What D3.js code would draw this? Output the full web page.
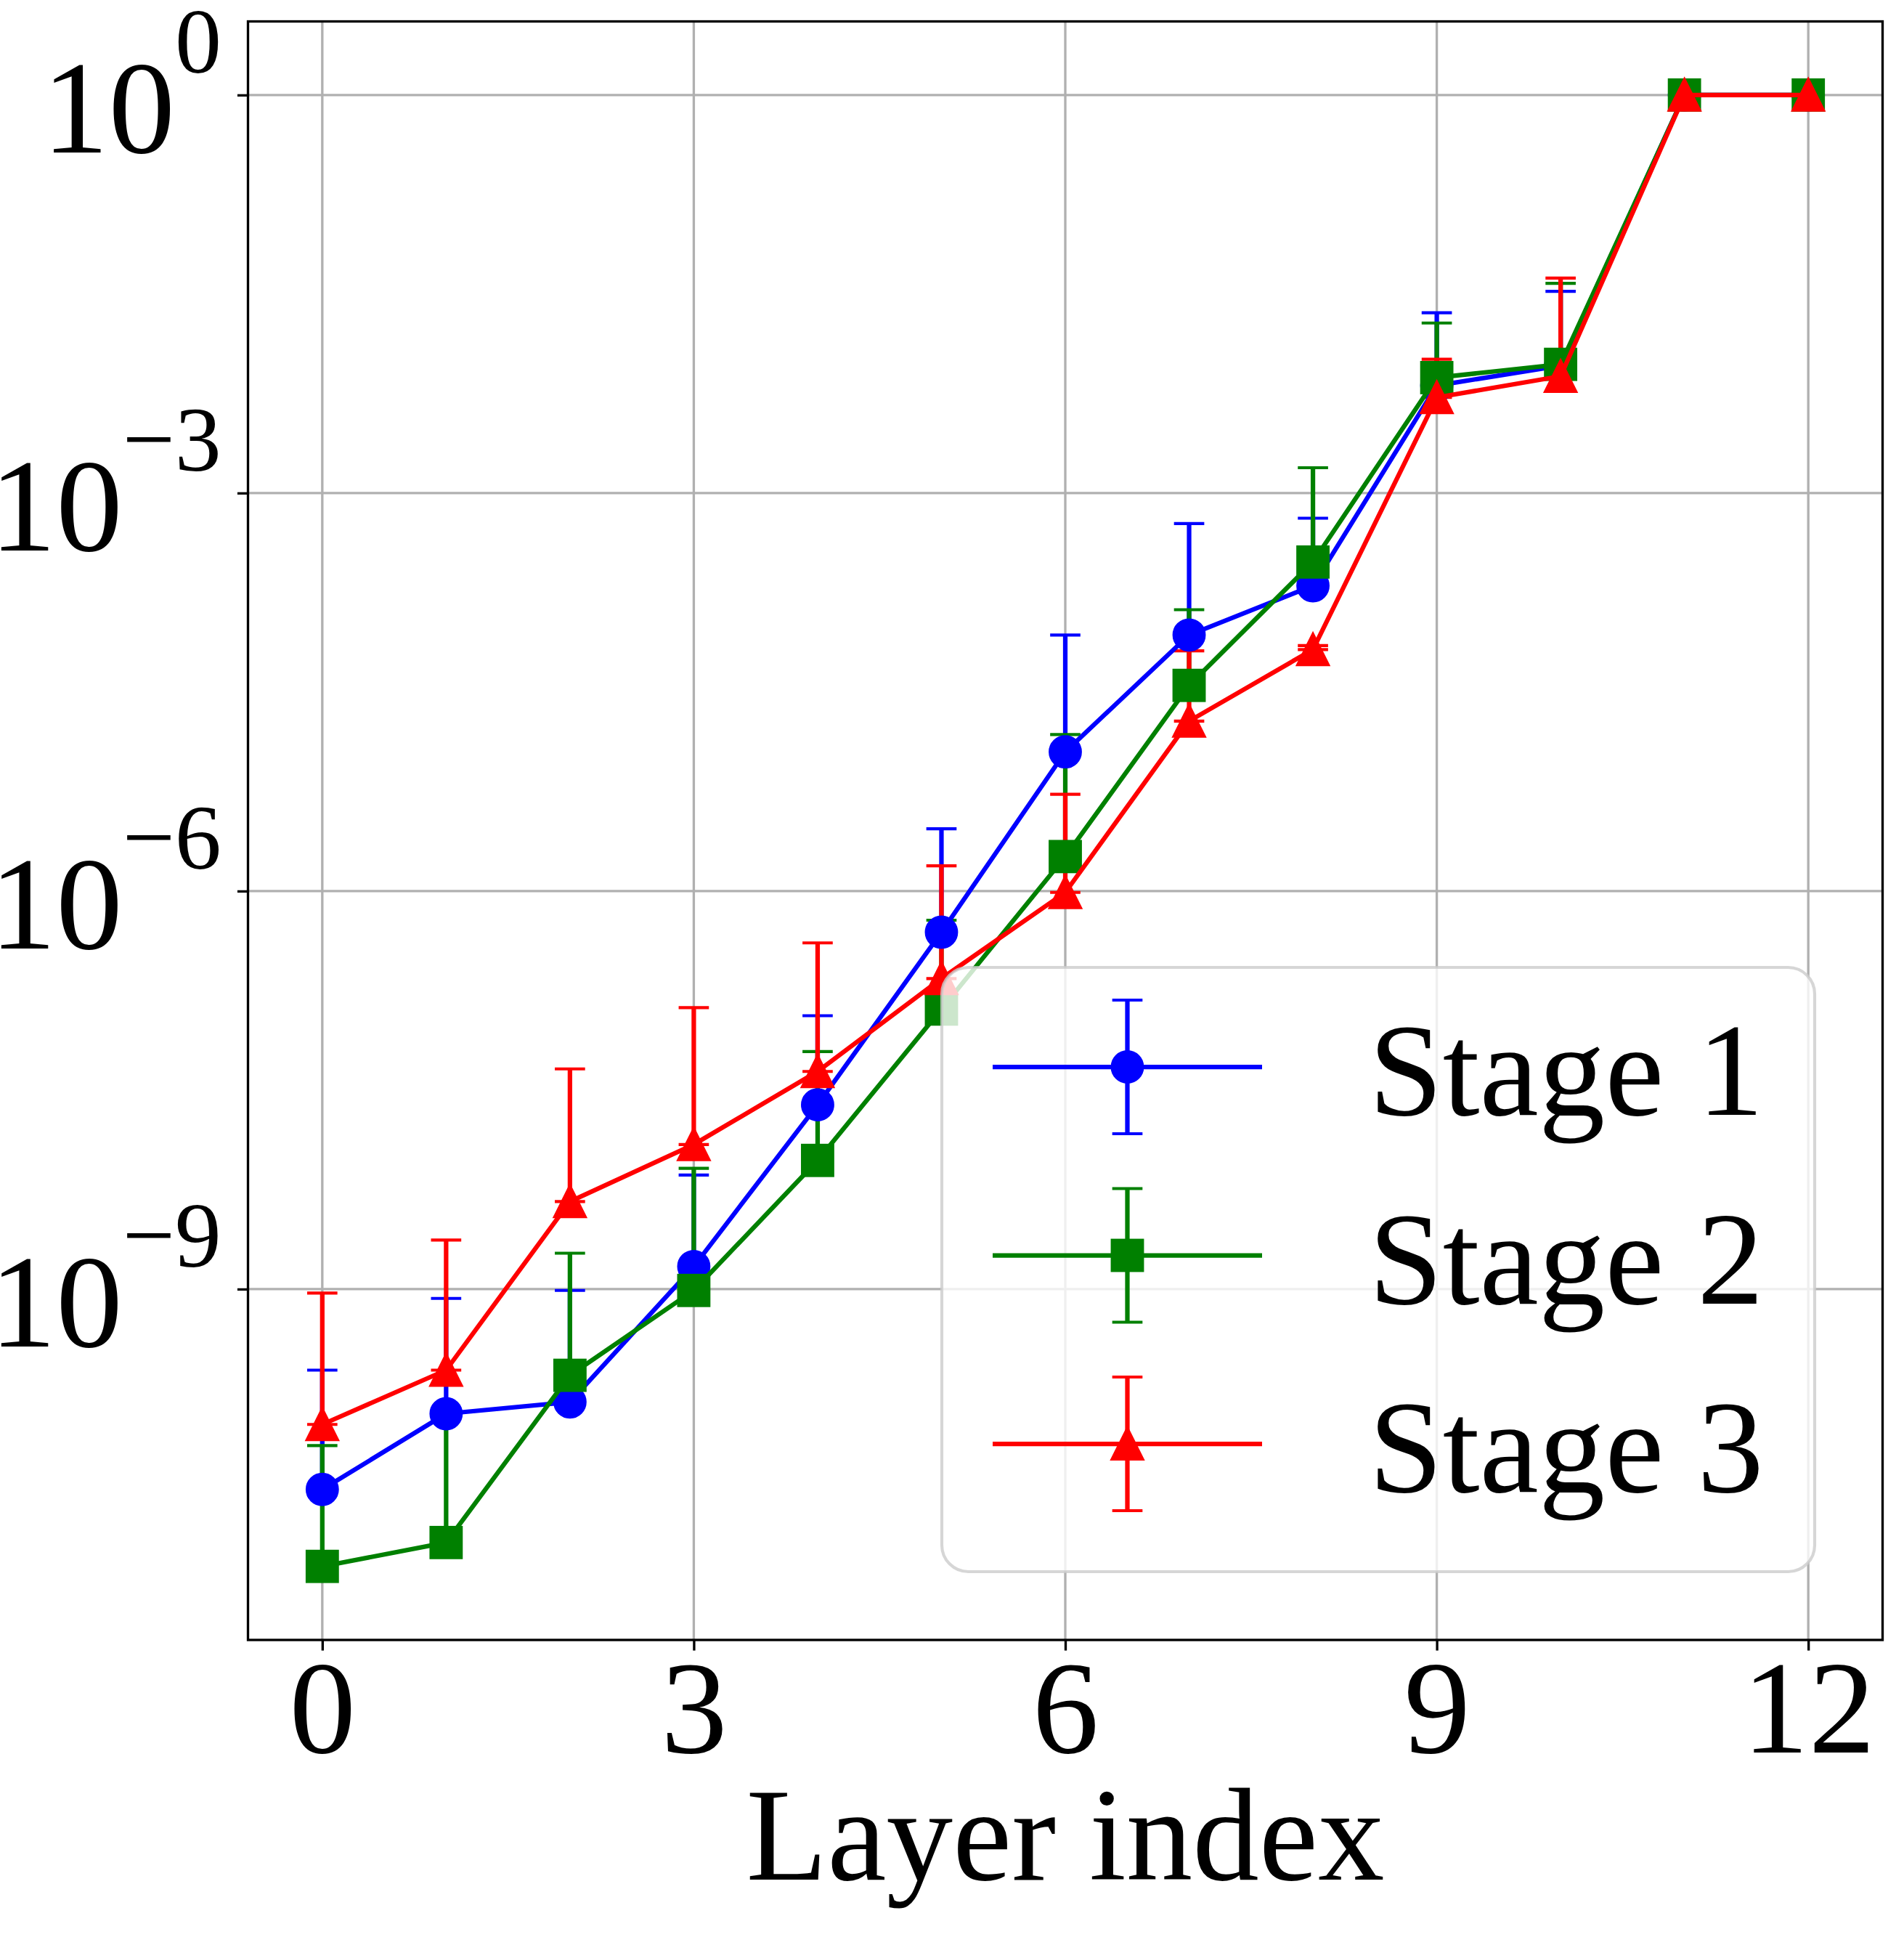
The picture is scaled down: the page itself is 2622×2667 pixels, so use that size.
<!DOCTYPE html>
<html>
<head>
<meta charset="utf-8">
<title>Layer index</title>
<script src="https://cdn.jsdelivr.net/npm/d3@7"></script>
<style>
  body { margin: 0; background: #fff; }
  svg { display: block; }
</style>
</head>
<body>
<svg width="2622" height="2667"></svg>
<script>
// data (mean, upper error)
const layers = [0, 1, 2, 3, 4, 5, 6, 7, 8, 9, 10, 11, 12];
const seriesNames = ['Stage 1', 'Stage 2', 'Stage 3'];

const stage1 = [3.09e-11, 1.15e-10, 1.41e-10, 1.48e-9, 2.45e-8, 4.90e-7, 1.12e-5, 8.51e-5, 2.00e-4, 6.46e-3, 9.12e-3, 1, 1];
const stage1Err = [2.14e-10, 7.36e-10, 8.36e-10, 5.76e-9, 9.05e-8, 2.46e-6, 7.39e-5, 5.04e-4, 4.46e-4, 1.64e-2, 2.40e-2, null, null];

const stage2 = [8.13e-12, 1.23e-11, 2.24e-10, 9.77e-10, 9.33e-9, 1.29e-7, 1.82e-6, 3.55e-5, 3.02e-4, 7.41e-3, 9.33e-3, 1, 1];
const stage2Err = [5.80e-11, 9.5e-11, 1.64e-9, 7.15e-9, 5.24e-8, 4.74e-7, 1.33e-5, 9.65e-5, 1.25e-3, 1.17e-2, 2.87e-2, null, null];

const stage3 = [9.55e-11, 2.45e-10, 4.57e-9, 1.23e-8, 4.37e-8, 2.19e-7, 9.77e-7, 1.91e-5, 6.61e-5, 5.25e-3, 7.59e-3, 1, 1];
const stage3Err = [8.38e-10, 2.10e-9, 4.11e-8, 1.20e-7, 3.63e-7, 1.33e-6, 4.39e-6, 4.55e-5, 4.7e-6, 4.95e-3, 3.41e-2, null, null];

const xTicks = [0, 3, 6, 9, 12];
const yTickExps = [0, -3, -6, -9];
const xLabel = 'Layer index';

const colors = ['#0000ff', '#008000', '#ff0000'];
const shapes = ['circle', 'square', 'triangle'];
const stages = [
  { name: seriesNames[0], values: stage1, err: stage1Err },
  { name: seriesNames[1], values: stage2, err: stage2Err },
  { name: seriesNames[2], values: stage3, err: stage3Err }
];

const W = 2622, H = 2667;
const plotL = 341.5, plotR = 2592.5, plotT = 29.5, plotB = 2258;
const fontFamily = "'Liberation Serif', 'Times New Roman', Times, serif";
const fs = 183;
const pt = 300 / 72;

const svg = d3.select('svg');
svg.append('rect').attr('width', W).attr('height', H).attr('fill', '#fff');

// scales with matplotlib-like 5% margins
const xPad = (d3.max(layers) - d3.min(layers)) * 0.05;
const x = d3.scaleLinear()
  .domain([d3.min(layers) - xPad, d3.max(layers) + xPad])
  .range([plotL, plotR]);

const lowVals = stages.flatMap(s => s.values);
const highVals = stages.flatMap(s => s.values.map((v, i) => v + (s.err[i] || 0)));
const lo = Math.log10(d3.min(lowVals)), hi = Math.log10(d3.max(highVals));
const yPad = (hi - lo) * 0.05;
const y = d3.scaleLog()
  .domain([10 ** (lo - yPad), 10 ** (hi + yPad)])
  .range([plotB, plotT]);

// grid
const grid = svg.append('g').attr('stroke', '#b0b0b0').attr('stroke-width', 0.8 * pt);
grid.selectAll('.gx').data(xTicks).enter().append('line')
  .attr('x1', d => x(d)).attr('x2', d => x(d))
  .attr('y1', plotT).attr('y2', plotB);
grid.selectAll('.gy').data(yTickExps).enter().append('line')
  .attr('x1', plotL).attr('x2', plotR)
  .attr('y1', d => y(10 ** d)).attr('y2', d => y(10 ** d));

function drawMarker(g, shape, color, cx, cy) {
  const r = 5 * pt;
  if (shape === 'circle') {
    g.append('circle').attr('cx', cx).attr('cy', cy).attr('r', r)
      .attr('fill', color).attr('stroke', color).attr('stroke-width', pt);
  } else if (shape === 'square') {
    g.append('rect').attr('x', cx - r).attr('y', cy - r)
      .attr('width', 2 * r).attr('height', 2 * r)
      .attr('fill', color).attr('stroke', color).attr('stroke-width', pt);
  } else {
    g.append('path')
      .attr('d', `M${cx},${cy - r}L${cx - r},${cy + r}L${cx + r},${cy + r}Z`)
      .attr('fill', color).attr('stroke', color).attr('stroke-width', pt)
      .attr('stroke-linejoin', 'miter');
  }
}

const capHalf = 5 * pt;

// error bars (drawn under all lines)
const bars = svg.append('g');
stages.forEach((s, si) => {
  const pts = layers.map((l, i) => ({ l, v: s.values[i], e: s.err[i] })).filter(d => d.e != null);
  const g = bars.append('g');
  g.selectAll('line.bar').data(pts).enter().append('line')
    .attr('x1', d => x(d.l)).attr('x2', d => x(d.l))
    .attr('y1', d => y(d.v)).attr('y2', d => y(d.v + d.e))
    .attr('stroke', colors[si]).attr('stroke-width', 1.5 * pt);
  const caps = pts.flatMap(d => [d.v, d.v + d.e].map(val => ({ l: d.l, val })));
  g.selectAll('line.cap').data(caps).enter().append('line')
    .attr('x1', d => x(d.l) - capHalf).attr('x2', d => x(d.l) + capHalf)
    .attr('y1', d => y(d.val)).attr('y2', d => y(d.val))
    .attr('stroke', colors[si]).attr('stroke-width', pt);
});

// lines and markers
const lineGen = d3.line().x(d => x(d.l)).y(d => y(d.v));
stages.forEach((s, si) => {
  const pts = layers.map((l, i) => ({ l, v: s.values[i] }));
  const g = svg.append('g');
  g.append('path').datum(pts)
    .attr('d', lineGen)
    .attr('fill', 'none').attr('stroke', colors[si])
    .attr('stroke-width', 1.5 * pt).attr('stroke-linejoin', 'round');
  pts.forEach(d => drawMarker(g, shapes[si], colors[si], x(d.l), y(d.v)));
});

// frame
svg.append('rect')
  .attr('x', plotL).attr('y', plotT)
  .attr('width', plotR - plotL).attr('height', plotB - plotT)
  .attr('fill', 'none').attr('stroke', '#000').attr('stroke-width', 0.8 * pt);

// x axis
const gx = svg.append('g')
  .attr('transform', `translate(0,${plotB})`)
  .call(d3.axisBottom(x).tickValues(xTicks).tickSize(3.5 * pt).tickPadding(10.4));
gx.select('.domain').remove();
gx.selectAll('.tick line').attr('stroke', '#000').attr('stroke-width', 0.8 * pt);
gx.selectAll('.tick text').attr('fill', '#000')
  .attr('font-size', fs).attr('font-family', fontFamily);

// y axis with 10^n labels
const gy = svg.append('g')
  .attr('transform', `translate(${plotL},0)`)
  .call(d3.axisLeft(y).tickValues(yTickExps.map(e => 10 ** e)).tickSize(3.5 * pt).tickPadding(22).tickFormat(() => ''));
gy.select('.domain').remove();
gy.selectAll('.tick line').attr('stroke', '#000').attr('stroke-width', 0.8 * pt);
gy.selectAll('.tick text').each(function(d, i) {
  const t = d3.select(this)
    .attr('dy', null).attr('y', 79)
    .attr('fill', '#000').attr('font-size', fs).attr('font-family', fontFamily)
    .attr('text-anchor', 'end');
  const e = yTickExps[i];
  t.append('tspan').text('10');
  t.append('tspan').attr('font-size', fs * 0.7).attr('dy', -110)
    .text(e < 0 ? '\u2212' + Math.abs(e) : String(e));
});

// x label
svg.append('text')
  .attr('x', (plotL + plotR) / 2).attr('y', 2588)
  .attr('text-anchor', 'middle')
  .attr('font-size', fs).attr('font-family', fontFamily)
  .text(xLabel);

// legend
const lg = svg.append('g').attr('transform', 'translate(1297,1332)');
lg.append('rect')
  .attr('width', 1202).attr('height', 832).attr('rx', 0.2 * fs)
  .attr('fill', '#fff').attr('fill-opacity', 0.8)
  .attr('stroke', '#cccccc').attr('stroke-opacity', 0.8).attr('stroke-width', pt);
stages.forEach((s, si) => {
  const cy = 137 + si * 259.5;
  const g = lg.append('g');
  const hx0 = 70, hx1 = 441, hm = (hx0 + hx1) / 2;
  g.append('line').attr('x1', hm).attr('x2', hm).attr('y1', cy - 92).attr('y2', cy + 92)
    .attr('stroke', colors[si]).attr('stroke-width', 1.5 * pt);
  [cy - 92, cy + 92].forEach(cyy => {
    g.append('line').attr('x1', hm - capHalf).attr('x2', hm + capHalf)
      .attr('y1', cyy).attr('y2', cyy)
      .attr('stroke', colors[si]).attr('stroke-width', pt);
  });
  g.append('line').attr('x1', hx0).attr('x2', hx1).attr('y1', cy).attr('y2', cy)
    .attr('stroke', colors[si]).attr('stroke-width', 1.5 * pt);
  drawMarker(g, shapes[si], colors[si], hm, cy);
  g.append('text')
    .attr('x', 588).attr('y', cy + 66)
    .attr('font-size', fs).attr('font-family', fontFamily)
    .text(s.name);
});
</script>
</body>
</html>
